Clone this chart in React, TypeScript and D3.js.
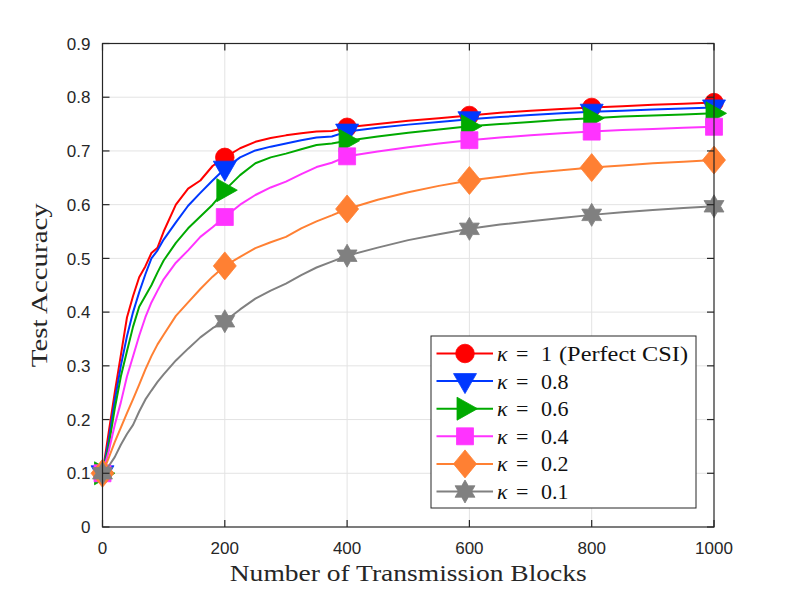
import * as d3 from 'd3';
import React, { useEffect, useRef } from 'react';

// transmission blocks at which the curves were read
const blocks = [0, 10, 20, 30, 40, 50, 60, 70, 80, 90, 100, 120, 140, 160, 180, 200, 225, 250, 275, 300, 325, 350, 375, 400, 450, 500, 550, 600, 650, 700, 750, 800, 850, 900, 950, 1000];

const kappa1 = [0.1, 0.175, 0.25, 0.32, 0.39, 0.43, 0.465, 0.485, 0.51, 0.52, 0.55, 0.6, 0.63, 0.645, 0.672, 0.688, 0.705, 0.717, 0.724, 0.729, 0.733, 0.736, 0.737, 0.744, 0.75, 0.756, 0.761, 0.766, 0.771, 0.775, 0.778, 0.781, 0.783, 0.786, 0.788, 0.79];
const kappa08 = [0.1, 0.16, 0.235, 0.3, 0.355, 0.4, 0.437, 0.47, 0.5, 0.515, 0.535, 0.567, 0.598, 0.622, 0.645, 0.667, 0.688, 0.701, 0.708, 0.714, 0.72, 0.725, 0.727, 0.736, 0.743, 0.749, 0.754, 0.759, 0.763, 0.767, 0.77, 0.773, 0.775, 0.777, 0.779, 0.781];
const kappa06 = [0.1, 0.15, 0.22, 0.28, 0.327, 0.373, 0.41, 0.43, 0.45, 0.474, 0.496, 0.529, 0.556, 0.578, 0.6, 0.627, 0.655, 0.677, 0.688, 0.695, 0.703, 0.711, 0.714, 0.719, 0.727, 0.734, 0.74, 0.746, 0.75, 0.754, 0.758, 0.761, 0.764, 0.766, 0.768, 0.77];
const kappa04 = [0.1, 0.14, 0.19, 0.232, 0.28, 0.318, 0.356, 0.39, 0.418, 0.44, 0.461, 0.492, 0.515, 0.54, 0.558, 0.577, 0.6, 0.618, 0.632, 0.643, 0.657, 0.67, 0.678, 0.69, 0.699, 0.707, 0.714, 0.72, 0.725, 0.729, 0.733, 0.736, 0.739, 0.741, 0.743, 0.745];
const kappa02 = [0.1, 0.128, 0.158, 0.185, 0.212, 0.238, 0.265, 0.293, 0.318, 0.34, 0.358, 0.393, 0.418, 0.443, 0.466, 0.486, 0.503, 0.519, 0.53, 0.54, 0.556, 0.569, 0.58, 0.592, 0.609, 0.623, 0.635, 0.645, 0.652, 0.659, 0.664, 0.669, 0.673, 0.677, 0.68, 0.683];
const kappa01 = [0.1, 0.113, 0.13, 0.153, 0.173, 0.19, 0.215, 0.237, 0.254, 0.27, 0.284, 0.31, 0.332, 0.353, 0.37, 0.383, 0.405, 0.425, 0.44, 0.453, 0.469, 0.483, 0.494, 0.505, 0.52, 0.534, 0.545, 0.555, 0.563, 0.569, 0.575, 0.581, 0.586, 0.59, 0.594, 0.597];

const markerBlocks = [0, 200, 400, 600, 800, 1000];
const xTicks = [0, 200, 400, 600, 800, 1000];
const yTicks = [0, 0.1, 0.2, 0.3, 0.4, 0.5, 0.6, 0.7, 0.8, 0.9];

const seriesLabels = ['1 (Perfect CSI)', '0.8', '0.6', '0.4', '0.2', '0.1'];
const seriesColors = ['#ff0000', '#0038ff', '#00aa00', '#ff33ff', '#ff8033', '#808080'];
const seriesMarkers = ['circle', 'triDown', 'triRight', 'square', 'diamond', 'hexagram'];
const seriesValues = [kappa1, kappa08, kappa06, kappa04, kappa02, kappa01];

const W = 789;
const H = 592;
const margin = { top: 43.5, right: 75, bottom: 65, left: 102.5 };

function markerPath(kind: string): string {
  switch (kind) {
    case 'circle':
      return d3.arc()({ innerRadius: 0, outerRadius: 9.3, startAngle: 0, endAngle: 2 * Math.PI }) as string;
    case 'triDown':
      return 'M-11.5,-7.5L11.5,-7.5L0,12.5Z';
    case 'triRight':
      return 'M-8,-11.5L-8,11.5L12.5,0Z';
    case 'square':
      return 'M-8.5,-8.5H8.5V8.5H-8.5Z';
    case 'diamond':
      return 'M0,-14L11.5,0L0,14L-11.5,0Z';
    default: {
      const pts: [number, number][] = d3.range(12).map(i => {
        const a = (i * Math.PI) / 6 - Math.PI / 2;
        const r = i % 2 === 0 ? 11.5 : 6.6;
        return [r * Math.cos(a), r * Math.sin(a)];
      });
      return (d3.line()(pts) as string) + 'Z';
    }
  }
}

const App: React.FC = () => {
  const svgRef = useRef<SVGSVGElement>(null);

  useEffect(() => {
    if (!svgRef.current) return;
    const svg = d3.select(svgRef.current);
    svg.selectAll('*').remove();

    const x = d3.scaleLinear().domain([0, 1000]).range([margin.left, W - margin.right]);
    const y = d3.scaleLinear().domain([0, 0.9]).range([H - margin.bottom, margin.top]);
    const axisColor = '#262626';
    const sans = '"Liberation Sans", Arial, sans-serif';
    const serif = '"Liberation Serif", "Times New Roman", serif';

    // grid
    const grid = svg.append('g').attr('stroke', '#e3e3e3').attr('stroke-width', 1);
    xTicks.slice(1, -1).forEach(t => {
      grid.append('line').attr('x1', x(t)).attr('x2', x(t)).attr('y1', y(0)).attr('y2', y(0.9));
    });
    yTicks.slice(1, -1).forEach(t => {
      grid.append('line').attr('x1', x(0)).attr('x2', x(1000)).attr('y1', y(t)).attr('y2', y(t));
    });

    // curves and markers
    const line = d3.line<[number, number]>()
      .x(d => x(d[0]))
      .y(d => y(d[1]));

    seriesValues.forEach((vals, i) => {
      const pts: [number, number][] = blocks.map((b, j) => [b, vals[j]]);
      svg.append('path')
        .datum(pts)
        .attr('fill', 'none')
        .attr('stroke', seriesColors[i])
        .attr('stroke-width', 2)
        .attr('stroke-linejoin', 'round')
        .attr('d', line);
      const mk = pts.filter(p => markerBlocks.includes(p[0]));
      svg.append('g').selectAll('path')
        .data(mk)
        .join('path')
        .attr('transform', d => `translate(${x(d[0])},${y(d[1])})`)
        .attr('d', markerPath(seriesMarkers[i]))
        .attr('fill', seriesColors[i])
        .attr('stroke', seriesColors[i])
        .attr('stroke-width', 0.8);
    });

    // axes box
    const axes = svg.append('g');
    axes.append('rect')
      .attr('x', x(0)).attr('y', y(0.9))
      .attr('width', x(1000) - x(0)).attr('height', y(0) - y(0.9))
      .attr('fill', 'none').attr('stroke', axisColor).attr('stroke-width', 1.2);

    const tickLen = 7;
    xTicks.forEach(t => {
      axes.append('line').attr('x1', x(t)).attr('x2', x(t)).attr('y1', y(0)).attr('y2', y(0) - tickLen)
        .attr('stroke', axisColor).attr('stroke-width', 1.2);
      axes.append('line').attr('x1', x(t)).attr('x2', x(t)).attr('y1', y(0.9)).attr('y2', y(0.9) + tickLen)
        .attr('stroke', axisColor).attr('stroke-width', 1.2);
      axes.append('text')
        .attr('x', x(t)).attr('y', y(0) + 27)
        .attr('text-anchor', 'middle')
        .attr('font-family', sans)
        .attr('font-size', 17)
        .attr('fill', axisColor)
        .text(d3.format('d')(t));
    });
    yTicks.forEach(t => {
      axes.append('line').attr('x1', x(0)).attr('x2', x(0) + tickLen).attr('y1', y(t)).attr('y2', y(t))
        .attr('stroke', axisColor).attr('stroke-width', 1.2);
      axes.append('line').attr('x1', x(1000)).attr('x2', x(1000) - tickLen).attr('y1', y(t)).attr('y2', y(t))
        .attr('stroke', axisColor).attr('stroke-width', 1.2);
      axes.append('text')
        .attr('x', x(0) - 12).attr('y', y(t))
        .attr('dy', '0.36em')
        .attr('text-anchor', 'end')
        .attr('font-family', sans)
        .attr('font-size', 17)
        .attr('fill', axisColor)
        .text(t === 0 ? '0' : d3.format('.1f')(t));
    });

    // axis labels
    svg.append('text')
      .attr('x', (x(0) + x(1000)) / 2).attr('y', 581)
      .attr('text-anchor', 'middle')
      .attr('font-family', serif)
      .attr('font-size', 24)
      .attr('fill', axisColor)
      .attr('textLength', 357)
      .attr('lengthAdjust', 'spacingAndGlyphs')
      .text('Number of Transmission Blocks');

    svg.append('text')
      .attr('transform', `translate(47,${(y(0) + y(0.9)) / 2}) rotate(-90)`)
      .attr('text-anchor', 'middle')
      .attr('font-family', serif)
      .attr('font-size', 24)
      .attr('fill', axisColor)
      .attr('textLength', 164)
      .attr('lengthAdjust', 'spacingAndGlyphs')
      .text('Test Accuracy');

    // legend
    const lg = svg.append('g').attr('transform', 'translate(431,336)');
    lg.append('rect')
      .attr('width', 265).attr('height', 172)
      .attr('fill', '#fff').attr('stroke', axisColor).attr('stroke-width', 1);
    seriesLabels.forEach((lab, i) => {
      const cy = 17.5 + i * 27.6;
      lg.append('line').attr('x1', 5.5).attr('x2', 62).attr('y1', cy).attr('y2', cy)
        .attr('stroke', seriesColors[i]).attr('stroke-width', 2);
      lg.append('path')
        .attr('transform', `translate(34,${cy})`)
        .attr('d', markerPath(seriesMarkers[i]))
        .attr('fill', seriesColors[i])
        .attr('stroke', seriesColors[i])
        .attr('stroke-width', 0.8);
      const txt = lg.append('text')
        .attr('y', cy + 7.5)
        .attr('font-family', serif)
        .attr('font-size', 22)
        .attr('fill', '#111');
      txt.append('tspan').attr('x', 66).attr('font-style', 'italic').text('κ');
      txt.append('tspan').attr('x', 85).text('=');
      const parts = lab.split(' ');
      txt.append('tspan').attr('x', 110).text(parts[0]);
      if (parts.length > 1) {
        txt.append('tspan').attr('x', 128)
          .attr('textLength', 129).attr('lengthAdjust', 'spacingAndGlyphs')
          .text(parts.slice(1).join(' '));
      }
    });
  }, []);

  return (
    <svg
      ref={svgRef}
      width={W}
      height={H}
      style={{ position: 'absolute', left: 0, top: 0, background: '#fff' }}
    />
  );
};

export default App;
